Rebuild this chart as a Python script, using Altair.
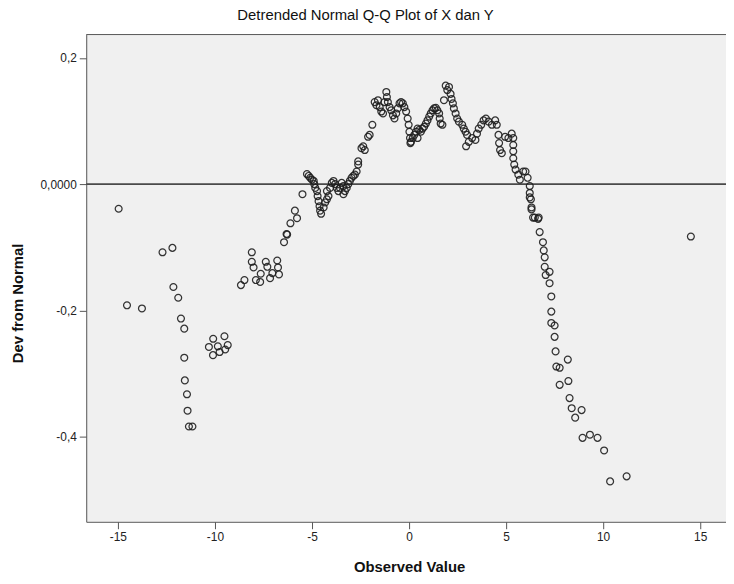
import altair as alt
import pandas as pd

observed = [
    # left tail
    -14.96, -14.53, -13.76, -12.70, -12.19, -12.14, -11.89, -11.75, -11.58, -11.58,
    -11.55, -11.44, -11.41, -11.34, -11.16,
    # cluster near -10
    -10.09, -9.51, -10.31, -9.85, -9.34, -10.10, -9.76, -9.47,
    # cluster -8.7 .. -6.3
    -8.66, -8.48, -8.10, -8.10, -8.01, -7.89, -7.67, -7.64, -7.38, -7.30,
    -7.16, -7.04, -6.79, -6.75, -6.70, -6.44, -6.31,
    -6.28, -6.11, -5.88, -5.77, -5.49,
    # bump near -5
    -5.26, -5.17, -5.09, -5.00, -4.91, -4.88, -4.83, -4.74, -4.71, -4.66,
    -4.61, -4.58, -4.53, -4.40, -4.32, -4.23, -4.23, -4.15, -4.07, -3.98,
    -3.89, -3.81, -3.72, -3.64, -3.56, -3.47, -3.38, -3.38, -3.30, -3.21,
    -3.13, -3.05, -2.96, -2.87, -2.79, -2.70, -2.62, -2.62,
    # rising
    -2.45, -2.36, -2.28, -2.11, -2.03, -1.89,
    # top cluster
    -1.77, -1.68, -1.60, -1.51, -1.43, -1.34, -1.26, -1.17, -1.14, -1.09,
    -1.00, -0.92, -0.83, -0.75, -0.66, -0.58, -0.49, -0.41, -0.32, -0.24,
    -0.15, -0.07, -0.02, 0.02, 0.05, 0.10, 0.19, 0.27, 0.36, 0.44,
    0.53, 0.61, 0.70, 0.78, 0.87, 0.95, 1.04, 1.12, 1.21, 1.29,
    1.38, 1.46, 1.55, 1.58, 1.63, 1.72, 0.07, 0.44,
    # peak and right chain
    1.80, 1.89, 2.06, 1.97, 2.14, 2.19, 2.26, 2.31, 2.40, 2.48,
    2.57, 2.74, 2.82, 2.91, 2.99, 2.94, 3.08, 3.25, 3.42, 3.50,
    3.59, 3.72, 3.84, 3.96, 4.10, 4.27, 4.44, 4.52, 4.61, 4.64,
    4.69, 4.78, 4.95, 5.12, 5.29, 5.37, 5.37, 5.37, 5.37, 5.42,
    5.49, 5.63, 5.71, 5.88, 6.00, 6.11, 6.22, 6.22, 6.28, 6.31,
    6.48, 6.68,
    # right tail
    6.22, 6.31, 6.39, 6.65, 6.73, 6.90, 6.94, 6.99, 6.99, 7.24,
    7.04, 7.24, 7.33, 7.33, 7.33, 7.50, 7.50, 7.55, 7.59, 7.76,
    8.18, 7.76, 8.21, 8.27, 8.38, 8.89, 8.56, 8.94, 9.32, 9.71,
    10.05, 10.36, 11.21,
    # far right
    14.52,
]

deviation = [
    # left tail
    -0.039, -0.192, -0.197, -0.108, -0.101, -0.163, -0.180, -0.213, -0.229, -0.275,
    -0.311, -0.333, -0.359, -0.384, -0.384,
    # cluster near -10
    -0.245, -0.241, -0.258, -0.257, -0.255, -0.271, -0.266, -0.262,
    # cluster -8.7 .. -6.3
    -0.160, -0.152, -0.108, -0.123, -0.132, -0.152, -0.155, -0.142, -0.123, -0.131,
    -0.149, -0.141, -0.121, -0.132, -0.143, -0.092, -0.079,
    -0.080, -0.062, -0.042, -0.054, -0.016,
    # bump near -5
    0.016, 0.013, 0.010, 0.007, 0.005, 0.000, -0.006, -0.011, -0.019, -0.027,
    -0.035, -0.042, -0.047, -0.037, -0.029, -0.024, -0.011, -0.019, -0.006, 0.002,
    0.005, 0.000, -0.006, -0.011, -0.006, 0.002, -0.003, -0.016, -0.011, -0.006,
    0.000, 0.005, 0.010, 0.013, 0.015, 0.020, 0.031, 0.036,
    # rising
    0.057, 0.060, 0.054, 0.075, 0.078, 0.094,
    # top cluster
    0.130, 0.125, 0.133, 0.122, 0.115, 0.112, 0.130, 0.146, 0.138, 0.130,
    0.122, 0.117, 0.109, 0.104, 0.112, 0.120, 0.128, 0.130, 0.128, 0.122,
    0.115, 0.104, 0.094, 0.083, 0.073, 0.067, 0.073, 0.078, 0.083, 0.088,
    0.086, 0.083, 0.088, 0.091, 0.096, 0.101, 0.107, 0.112, 0.117, 0.120,
    0.121, 0.117, 0.112, 0.104, 0.096, 0.094, 0.065, 0.073,
    # peak and right chain
    0.133, 0.156, 0.154, 0.149, 0.143, 0.135, 0.128, 0.120, 0.112, 0.104,
    0.099, 0.094, 0.088, 0.083, 0.078, 0.060, 0.067, 0.073, 0.070, 0.080,
    0.088, 0.094, 0.101, 0.104, 0.099, 0.094, 0.101, 0.094, 0.078, 0.065,
    0.054, 0.049, 0.075, 0.073, 0.080, 0.073, 0.062, 0.052, 0.041, 0.031,
    0.023, 0.015, 0.007, 0.020, 0.020, 0.010, -0.003, -0.014, -0.024, -0.037,
    -0.053, -0.053,
    # right tail
    -0.021, -0.040, -0.053, -0.055, -0.076, -0.092, -0.105, -0.116, -0.131, -0.139,
    -0.144, -0.157, -0.178, -0.202, -0.220, -0.224, -0.242, -0.265, -0.289, -0.291,
    -0.278, -0.318, -0.312, -0.339, -0.355, -0.358, -0.370, -0.402, -0.397, -0.402,
    -0.422, -0.471, -0.463,
    # far right
    -0.083,
]

x_ticks = [-15, -10, -5, 0, 5, 10, 15]
y_ticks = [-0.4, -0.2, 0.0, 0.2]

df = pd.DataFrame({"Observed": observed, "Dev": deviation})

W, H = 646, 492
FONT = "Liberation Sans"
x_scale = alt.Scale(domain=[-16.63, 16.33], nice=False, zero=False)
y_scale = alt.Scale(domain=[-0.535, 0.237], nice=False, zero=False)

points = alt.Chart(df).mark_point(
    shape="circle", filled=False, size=48, stroke="#1f1f1f", strokeWidth=1.25, opacity=0.9
).encode(
    x=alt.X("Observed:Q", scale=x_scale,
            axis=alt.Axis(values=x_ticks, title="Observed Value",
                          labelExpr="(datum.value < 0 ? '-' : '') + format(abs(datum.value), 'd')",
                          titleX=326, titleY=45, titleBaseline="middle", titleAlign="center")),
    y=alt.Y("Dev:Q", scale=y_scale,
            axis=alt.Axis(values=y_ticks, title="Dev from Normal",
                          labelExpr="datum.value == 0 ? '0,0000' : (datum.value < 0 ? '-' : '') + replace(format(abs(datum.value), '.1f'), '.', ',')",
                          titleX=-69, titleY=271, titleAngle=-90, titleBaseline="middle",
                          titleAlign="center")),
)

zero_line = alt.Chart(pd.DataFrame({"y": [0.0]})).mark_rule(
    color="#4a4a4a", strokeWidth=1.7
).encode(y=alt.Y("y:Q", scale=y_scale))

top_border = alt.Chart(pd.DataFrame({"a": [0]})).mark_rule(
    color="#555555", strokeWidth=1
).encode(x=alt.value(0), x2=alt.value(W), y=alt.value(0))

chart = alt.layer(zero_line, points, top_border).properties(
    width=W,
    height=H,
    background="white",
    autosize=alt.AutoSizeParams(type="none"),
    padding={"left": 79, "top": 24, "right": 0, "bottom": 60},
    title=alt.TitleParams(
        "Detrended Normal Q-Q Plot of X dan Y",
        font=FONT, fontSize=15, fontWeight=500, color="#111111",
        anchor="middle", dx=-41, offset=11,
    ),
).configure_view(
    fill="#f0f0f0", stroke=None
).configure_axis(
    grid=False,
    domainColor="#555555",
    domainWidth=1,
    tickColor="#555555",
    tickSize=7,
    labelFont=FONT,
    labelFontSize=12,
    labelColor="#222222",
    labelPadding=3,
    titleFont=FONT,
    titleFontSize=15,
    titleFontWeight="bold",
    titleColor="#111111",
)

chart.save("out.html", embed_options={"renderer": "svg", "actions": False})
